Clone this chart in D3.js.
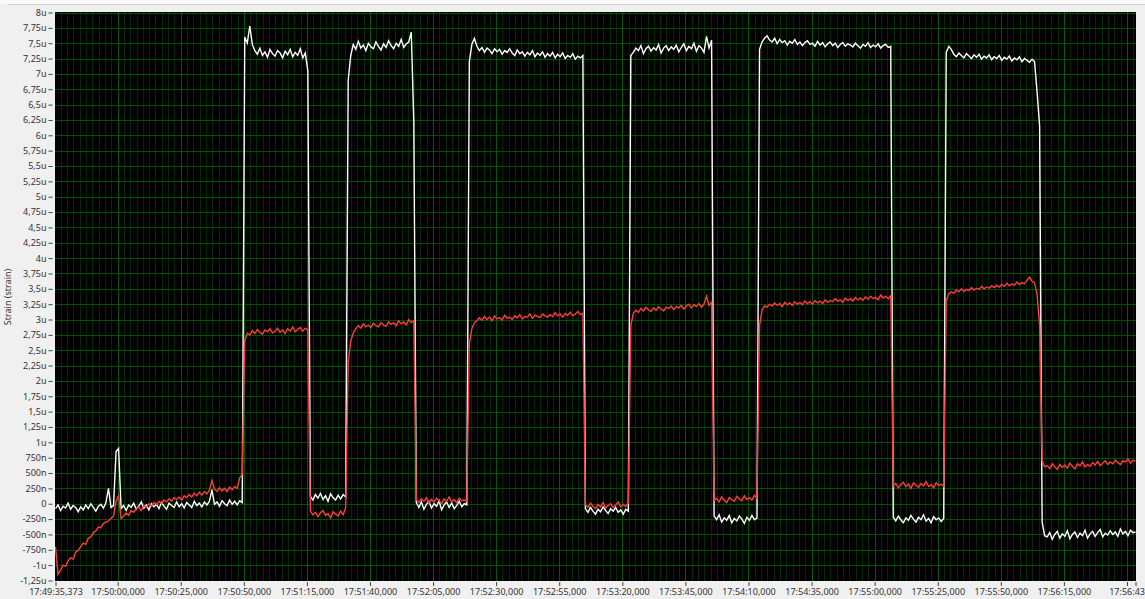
<!DOCTYPE html>
<html>
<head>
<meta charset="utf-8">
<script src="https://cdn.jsdelivr.net/npm/d3@7"></script>
<style>
  body { margin: 0; background: #f0f0f0; }
  svg { display: block; font-family: "Segoe UI", "Noto Sans", sans-serif; }
</style>
</head>
<body>
<div id="chart"></div>
<script>
// time axis: seconds after 17:49:35,373
var xTickSeconds = [0, 24.627, 49.627, 74.627, 99.627, 124.627, 149.627, 174.627, 199.627,
  224.627, 249.627, 274.627, 299.627, 324.627, 349.627, 374.627, 399.627, 424.627, 428];
var xTickLabels = ["17:49:35,373", "17:50:00,000", "17:50:25,000", "17:50:50,000", "17:51:15,000",
  "17:51:40,000", "17:52:05,000", "17:52:30,000", "17:52:55,000", "17:53:20,000", "17:53:45,000",
  "17:54:10,000", "17:54:35,000", "17:55:00,000", "17:55:25,000", "17:55:50,000", "17:56:15,000",
  "", "17:56:43,373"];

var yTickLabels = ["-1,25u", "-1u", "-750n", "-500n", "-250n", "0", "250n", "500n", "750n", "1u",
  "1,25u", "1,5u", "1,75u", "2u", "2,25u", "2,5u", "2,75u", "3u", "3,25u", "3,5u", "3,75u", "4u",
  "4,25u", "4,5u", "4,75u", "5u", "5,25u", "5,5u", "5,75u", "6u", "6,25u", "6,5u", "6,75u", "7u",
  "7,25u", "7,5u", "7,75u", "8u"];

// strain in nano-strain, one value per second, each run starts at second t
var whiteRuns = [
  {t: 0, v: [-80, -20, -110, -40, -70, 10, -90, -30, -60, -130,
    -50, -100, -20, -80, 0, -60, -120, -40, -10, -70,
    20, 250, -60, -30, 850, 900, -80, -30, -110, -20,
    -60, 10, -90, -40, 30, -70, -20, -100, 0, -50,
    -10, -80, 20, -40, -90, 10, -30, -60, 30, -50,
    0, -70, 20, -20, -60, 40, -30, 10, -50, 30,
    -20, 40, 230, -10, 30, -40, 50, 0, -30, 60,
    -10, 40, -20, 50, 20]},
  {t: 75, v: [7600, 7500, 7780, 7480,
    7380, 7320, 7420, 7300, 7360, 7270, 7400, 7330, 7290, 7380, 7340,
    7260, 7370, 7310, 7400, 7280, 7350, 7300, 7410, 7260, 7340,
    7050]},
  {t: 101, v: [120, 60, 150, 90, 170, 70, 130, 40, 160, 100, 60, 140, 80, 150, 110,
    6900, 7300,
    7480, 7400, 7530, 7420, 7470, 7380, 7500, 7440, 7410, 7520, 7450, 7390,
    7490, 7430, 7540, 7460, 7410, 7500, 7450, 7560, 7430, 7490, 7520, 7680,
    6200]},
  {t: 143, v: [20, -60, 30, -90, -10, 40, -70, 0, -40, 50, -100, -20, 30, -60, 10, -80, -30, 40, -50, 0, -20,
    7200, 7480, 7580,
    7450, 7380, 7430, 7350, 7420, 7390, 7330, 7410, 7360, 7400, 7320, 7380, 7350, 7410,
    7340, 7300, 7390, 7330, 7360, 7290, 7350, 7310, 7380, 7280, 7340, 7300, 7360, 7270, 7330,
    7290, 7350, 7260, 7320, 7280, 7340, 7250, 7300, 7270, 7330, 7240, 7290, 7260, 7300]},
  {t: 210, v: [-80, -140, -60, -120, -170, -90, -130, -50, -110, -160, -80, -120, -60, -140, -100, -170, -90, -120,
    7300,
    7350, 7420, 7380, 7460, 7330, 7410, 7450, 7370, 7430, 7390, 7480, 7340, 7420, 7460, 7380, 7440,
    7400, 7470, 7360, 7430, 7490, 7380, 7450, 7410, 7500, 7370, 7460, 7420, 7350, 7610, 7420, 7550]},
  {t: 261, v: [-200, -260, -180, -300, -230, -270, -190, -310, -240, -280, -200, -250, -320, -220, -270, -190, -260, -230,
    7400, 7520, 7580, 7620, 7550,
    7520, 7580, 7490, 7560, 7510, 7540, 7470, 7530, 7500, 7560, 7480, 7520, 7460, 7510, 7540,
    7480, 7500, 7450, 7530, 7470, 7510, 7440, 7490, 7520, 7460, 7500, 7430, 7480, 7510, 7450, 7490, 7470,
    7440, 7500, 7460, 7420, 7480, 7450, 7510, 7430, 7470, 7440, 7490, 7420, 7460, 7480, 7430, 7450]},
  {t: 332, v: [-220, -280, -200, -260, -310, -230, -270, -190, -250, -300, -220, -260, -180, -280, -240, -310, -210, -260, -230, -290, -240,
    7350, 7450, 7400, 7320,
    7280, 7340, 7300, 7260, 7330, 7290, 7250, 7310, 7270, 7320, 7240, 7290, 7260, 7310, 7230, 7280,
    7250, 7300, 7220, 7270, 7240, 7290, 7210, 7260, 7230, 7280, 7200, 7250, 7220, 7190, 7240, 7200,
    6700, 6150]},
  {t: 391, v: [-300, -520,
    -540, -470, -580, -500, -450, -560, -490, -530, -440, -570, -500, -460, -550, -480, -520, -430, -560, -490,
    -450, -530, -470, -420, -540, -480, -510, -440, -500, -460, -530, -410, -490, -450, -520, -430, -470, -460]}
];

var redRuns = [
  {t: 0, v: [-700, -1150, -1080, -1000, -1020, -930, -880, -900, -790, -760,
    -700, -640, -660, -560, -540, -470, -440, -380, -390, -320,
    -300, -280, -240, -200, 40, 130, -240, -200, -150, -190,
    -110, -140, -80, -60, -110, -30, -60, 0, -40, 20,
    -10, 40, 0, 60, 30, 80, 40, 100, 70, 110,
    60, 130, 100, 150, 110, 170, 130, 190, 140, 200,
    160, 220, 380, 240, 200, 260, 210, 250, 200, 270,
    230, 280, 250, 420, 480]},
  {t: 75, v: [2650, 2780,
    2750, 2820, 2770, 2840, 2790, 2760, 2830, 2800, 2850, 2780, 2810, 2860,
    2790, 2830, 2770, 2850, 2810, 2880, 2800, 2840, 2870, 2810, 2860, 2830]},
  {t: 101, v: [-120, -180, -140, -210, -150, -110, -190, -160, -230, -130, -170, -200, -120, -180, -60,
    2300, 2650, 2780,
    2850, 2900, 2860, 2930, 2880, 2910, 2870, 2940, 2900, 2880, 2950, 2910,
    2890, 2960, 2920, 2950, 2900, 2980, 2930, 2960, 2910, 3000, 2950, 2980]},
  {t: 143, v: [60, 20, 80, 40, 100, 10, 70, 30, 90, 50, 0, 80, 40, 110, 30, 70, 20, 90, 50, 60, 40,
    2600, 2850, 2950,
    2980, 3030, 2990, 3050, 3000, 3040, 2980, 3060, 3010, 3030, 2990, 3070, 3020, 3040,
    3000, 3060, 3030, 3080, 3010, 3050, 3040, 3090, 3020, 3070, 3050, 3030, 3090, 3060, 3040,
    3080, 3050, 3110, 3060, 3090, 3040, 3100, 3070, 3120, 3060, 3090, 3130, 3080, 3100]},
  {t: 210, v: [-20, -60, 10, -40, -80, -10, -50, 20, -70, -30, 0, -60, -20, 30, -50, -10, -40, 10,
    2900, 3100,
    3150, 3120, 3180, 3140, 3200, 3160, 3130, 3190, 3150, 3210, 3170, 3140, 3200, 3180, 3220, 3160,
    3210, 3190, 3230, 3170, 3220, 3250, 3190, 3240, 3210, 3260, 3200, 3250, 3380, 3230, 3280]},
  {t: 261, v: [50, 90, 30, 110, 60, 20, 100, 70, 40, 120, 80, 50, 130, 70, 100, 60, 140, 90,
    2900, 3150, 3220,
    3200, 3250, 3220, 3270, 3230, 3260, 3210, 3280, 3240, 3270, 3230, 3290, 3250, 3280, 3240, 3300,
    3260, 3290, 3250, 3310, 3270, 3300, 3260, 3320, 3280, 3310, 3290, 3340, 3300, 3320, 3280, 3350, 3310,
    3340, 3300, 3360, 3320, 3350, 3310, 3370, 3330, 3380, 3340, 3360, 3320, 3400, 3350, 3380, 3340, 3390]},
  {t: 332, v: [290, 330, 260, 310, 350, 280, 320, 250, 340, 300, 270, 330, 290, 360, 280, 310, 260, 340, 300, 320, 280,
    3300, 3420, 3450,
    3430, 3480, 3450, 3500, 3460, 3490, 3470, 3520, 3480, 3510, 3490, 3540, 3500, 3530, 3510, 3550, 3520,
    3560, 3530, 3570, 3540, 3590, 3550, 3580, 3560, 3610, 3570, 3600, 3580, 3640, 3690, 3620, 3600,
    3400, 2900]},
  {t: 391, v: [700, 600,
    620, 570, 650, 600, 560, 640, 590, 630, 580, 660, 610, 570, 650, 620, 680, 600, 640, 610,
    670, 630, 690, 620, 660, 700, 640, 680, 650, 710, 670, 640, 700, 680, 730, 660, 710, 690]}
];

var svgWidth = 1145;
var svgHeight = 599;
var plot = {left: 55, top: 12, right: 1136, bottom: 581};

var svg = d3.select("#chart")
  .append("svg")
  .attr("width", svgWidth)
  .attr("height", svgHeight);

// panel background
svg.append("rect").attr("width", svgWidth).attr("height", svgHeight).attr("fill", "#f0f0f0");
svg.append("rect").attr("width", svgWidth).attr("height", 4).attr("fill", "#fafafa");
svg.append("line")
  .attr("x1", 7).attr("x2", svgWidth).attr("y1", 4.5).attr("y2", 4.5)
  .attr("stroke", "#d2d2d2");

var x = d3.scaleLinear().domain([0, 428]).range([plot.left + 0.5, plot.right - 0.5]);
var y = d3.scaleLinear().domain([-1250, 8000]).range([plot.bottom - 0.5, plot.top + 0.5]);

svg.append("rect")
  .attr("x", plot.left).attr("y", plot.top)
  .attr("width", plot.right - plot.left).attr("height", plot.bottom - plot.top)
  .attr("fill", "#000");

svg.append("clipPath").attr("id", "clip")
  .append("rect")
  .attr("x", plot.left).attr("y", plot.top)
  .attr("width", plot.right - plot.left).attr("height", plot.bottom - plot.top);

var grid = svg.append("g").attr("clip-path", "url(#clip)");

// minor grid every 2,5 s
var minorT = d3.range(2.127, 428, 2.5);
grid.selectAll(".minor").data(minorT).enter().append("line")
  .attr("x1", d => Math.round(x(d)) + 0.5).attr("x2", d => Math.round(x(d)) + 0.5)
  .attr("y1", plot.top).attr("y2", plot.bottom)
  .attr("stroke", "#002a00");

var yTickValues = d3.range(-1250, 8001, 250);
grid.selectAll(".hgrid").data(yTickValues).enter().append("line")
  .attr("y1", d => Math.round(y(d)) + 0.5).attr("y2", d => Math.round(y(d)) + 0.5)
  .attr("x1", plot.left).attr("x2", plot.right)
  .attr("stroke", "#005200");

var majorT = xTickSeconds.slice(1, 18);
grid.selectAll(".major").data(majorT).enter().append("line")
  .attr("x1", d => Math.round(x(d)) + 0.5).attr("x2", d => Math.round(x(d)) + 0.5)
  .attr("y1", plot.top).attr("y2", plot.bottom)
  .attr("stroke", "#005c00");

function flatten(runs) {
  var pts = [];
  runs.forEach(function(r) {
    r.v.forEach(function(v, i) { pts.push({t: r.t + i, v: v}); });
  });
  return pts;
}

var line = d3.line().x(d => x(d.t)).y(d => y(d.v));

var traces = svg.append("g").attr("clip-path", "url(#clip)");
traces.append("path")
  .datum(flatten(whiteRuns))
  .attr("d", line)
  .attr("fill", "none")
  .attr("stroke", "#ffffff")
  .attr("stroke-width", 1.4);
traces.append("path")
  .datum(flatten(redRuns))
  .attr("d", line)
  .attr("fill", "none")
  .attr("stroke", "#ff3c3c")
  .attr("stroke-width", 1.4);

// axes
var leftAxis = d3.axisLeft(y)
  .tickValues(yTickValues)
  .tickFormat((d, i) => yTickLabels[i])
  .tickSize(4)
  .tickPadding(2);

var yAxis = svg.append("g")
  .attr("transform", "translate(52.5,0)")
  .call(leftAxis);
yAxis.select(".domain").remove();
yAxis.selectAll("line").attr("stroke", "#444");
yAxis.selectAll("text").attr("fill", "#333").style("font-size", "9px")
  .style("font-family", "'Segoe UI', 'Noto Sans', sans-serif");

var bottomAxis = d3.axisBottom(x)
  .tickValues(xTickSeconds)
  .tickFormat((d, i) => xTickLabels[i])
  .tickSize(4)
  .tickPadding(3);

var xAxis = svg.append("g")
  .attr("transform", `translate(0, ${plot.bottom + 1})`)
  .call(bottomAxis);
xAxis.select(".domain").remove();
xAxis.selectAll("line").attr("stroke", "#444");
xAxis.selectAll("text").attr("fill", "#333").style("font-size", "9px")
  .style("font-family", "'Segoe UI', 'Noto Sans', sans-serif");

svg.append("text")
  .attr("transform", "translate(11, 297) rotate(-90)")
  .attr("text-anchor", "middle")
  .attr("fill", "#333")
  .style("font-size", "9px")
  .text("Strain (strain)");
</script>
</body>
</html>
